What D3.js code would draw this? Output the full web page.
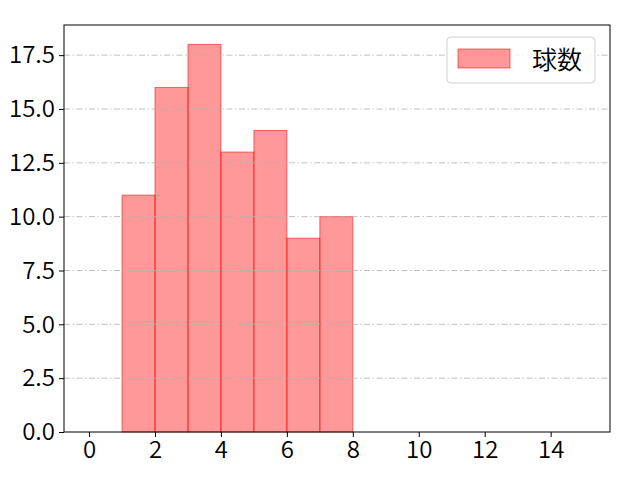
<!DOCTYPE html>
<html>
<head>
<meta charset="utf-8">
<script src="https://cdn.jsdelivr.net/npm/d3@7"></script>
<style>
  body { margin: 0; background: #fff; }
  .axis text { font-family: "Noto Sans CJK JP", "DejaVu Sans", sans-serif; font-size: 24px; font-weight: 350; fill: #000; }
</style>
</head>
<body>
<div id="chart"></div>
<script>
var svgWidth = 640;
var svgHeight = 480;

var chartMargin = { top: 25, right: 30, bottom: 48, left: 64 };
var chartWidth = svgWidth - chartMargin.left - chartMargin.right;
var chartHeight = svgHeight - chartMargin.top - chartMargin.bottom;

// histogram bins (left edge) and counts
var binStarts = [1, 2, 3, 4, 5, 6, 7];
var counts = [11, 16, 18, 13, 14, 9, 10];
var xTicks = [0, 2, 4, 6, 8, 10, 12, 14];
var yTicks = [0, 2.5, 5, 7.5, 10, 12.5, 15, 17.5];
var seriesName = "球数";

var bins = binStarts.map(function(s, i) { return { x0: s, x1: s + 1, n: counts[i] }; });

var svg = d3.select("#chart").append("svg")
  .attr("width", svgWidth)
  .attr("height", svgHeight);

var chartGroup = svg.append("g")
  .attr("transform", `translate(${chartMargin.left}, ${chartMargin.top})`);

var xScale = d3.scaleLinear().domain([-0.76, 15.8]).range([0, chartWidth]);
var yScale = d3.scaleLinear().domain([0, 18.9]).range([chartHeight, 0]);

// bars
chartGroup.selectAll(".bar")
  .data(bins)
  .enter()
  .append("rect")
  .attr("class", "bar")
  .attr("x", d => xScale(d.x0))
  .attr("width", d => xScale(d.x1) - xScale(d.x0))
  .attr("y", d => yScale(d.n))
  .attr("height", d => yScale(0) - yScale(d.n))
  .attr("fill", "#ff0000")
  .attr("fill-opacity", 0.4)
  .attr("stroke", "#ff0000")
  .attr("stroke-opacity", 0.55)
  .attr("stroke-width", 1);

// grid lines (dash-dot)
chartGroup.selectAll(".grid")
  .data(yTicks.slice(1))
  .enter()
  .append("line")
  .attr("x1", 0)
  .attr("x2", chartWidth)
  .attr("y1", d => yScale(d))
  .attr("y2", d => yScale(d))
  .attr("stroke", "#b0b0b0")
  .attr("stroke-width", 0.8)
  .attr("stroke-dasharray", "6,2.5,1.5,2.5");

// axes
var xAxis = d3.axisBottom(xScale).tickValues(xTicks).tickSize(5).tickPadding(4).tickFormat(d3.format("d"));
var yAxis = d3.axisLeft(yScale).tickValues(yTicks).tickSize(5).tickPadding(4).tickFormat(d3.format(".1f"));

chartGroup.append("g")
  .attr("class", "axis")
  .attr("transform", `translate(0, ${chartHeight})`)
  .call(xAxis);

chartGroup.append("g")
  .attr("class", "axis")
  .call(yAxis);

chartGroup.selectAll(".axis .domain").remove();
chartGroup.selectAll(".axis line").attr("stroke", "#000").attr("stroke-width", 1);

// frame
chartGroup.append("rect")
  .attr("width", chartWidth)
  .attr("height", chartHeight)
  .attr("fill", "none")
  .attr("stroke", "#000")
  .attr("stroke-width", 1);

// legend
var legend = chartGroup.append("g")
  .attr("transform", `translate(${chartWidth - 163}, 12)`);

legend.append("rect")
  .attr("width", 148)
  .attr("height", 46)
  .attr("rx", 4)
  .attr("fill", "#fff")
  .attr("fill-opacity", 0.8)
  .attr("stroke", "#d0d0d0");

legend.append("rect")
  .attr("x", 11)
  .attr("y", 12)
  .attr("width", 52)
  .attr("height", 19)
  .attr("fill", "#ff0000")
  .attr("fill-opacity", 0.4)
  .attr("stroke", "#ff0000")
  .attr("stroke-opacity", 0.55);

legend.append("text")
  .attr("x", 85)
  .attr("y", 32)
  .attr("font-family", "Noto Sans CJK JP, sans-serif")
  .attr("font-size", 25)
  .attr("font-weight", 350)
  .attr("fill", "#000")
  .text(seriesName);
</script>
</body>
</html>
